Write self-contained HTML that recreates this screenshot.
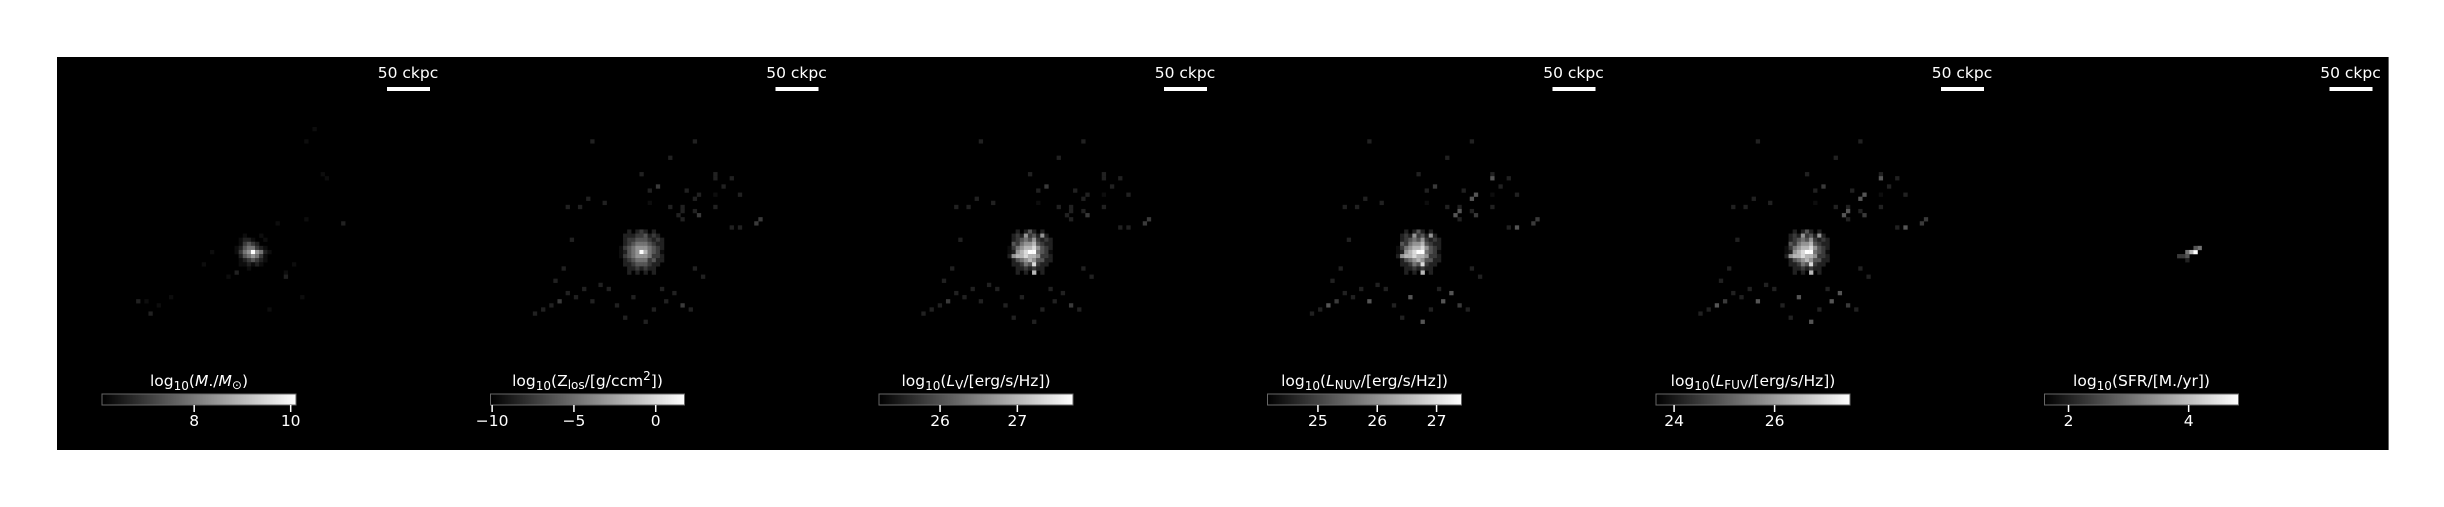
<!DOCTYPE html>
<html><head><meta charset="utf-8">
<style>
html,body{margin:0;padding:0;background:#fff;}
body{width:2444px;height:507px;overflow:hidden;position:relative;font-family:"DejaVu Sans","Liberation Sans",sans-serif;}
svg{position:absolute;left:0;top:0;}
</style></head>
<body>
<svg id="fig" width="2444" height="507" viewBox="0 0 2444 507">
<defs>
<linearGradient id="gray" x1="0" x2="1" y1="0" y2="0"><stop offset="0" stop-color="#000"/><stop offset="1" stop-color="#fff"/></linearGradient>
</defs>
</svg>
<script>
// ---- data ----
const panelNames = ["stellar-mass","metallicity","lum-v","lum-nuv","lum-fuv","sfr"];
const cbMin = [6.09, -10.1, 25.21, 24.15, 23.64, 1.6];
const cbMax = [10.11, 1.76, 27.72, 27.42, 27.5, 4.83];
const cbTicks = [[8,10],[-10,-5,0],[26,27],[25,26,27],[24,26],[2,4]];
const cbTickLabels = [["8","10"],["\u221210","\u22125","0"],["26","27"],["25","26","27"],["24","26"],["2","4"]];
// core intensity maps (rows dy=-5..5, cols dx=-5..5, digit 0-9)
const coreBright = [
 "00000000000","00010000000","00122100100","00134320000","01245532100","01356965210",
 "00245653100","00123432100","00012121000","00001000000","00000000000"];
const coreExt = [
 "00202320200","02223342320","02334443232","02345554322","13456665432","12456975431",
 "13456665332","02345553422","02234443220","00223232200","00202020200"];
const coreLum = [
 "00202420200","02326342620","02345463232","04356674322","13567786432","12678995431",
 "26778776332","02456764422","02235483220","00223232200","00202070200"];
// scattered pixels [dx,dy,intensity 0-9]
const scatter = [
 [-12,-27,2],[13,-27,2],[7,-23,2],[0,-19,2],[4,-16,3],[2,-15,2],[18,-19,2],[18,-18,2],
 [22,-18,2],[20,-16,2],[11,-15,2],[24,-14,2],[14,-14,2],[13,-13,2],[18,-14,1],[-13,-13,2],
 [-9,-12,2],[2,-12,1],[-18,-11,2],[-15,-11,2],[7,-11,2],[10,-11,2],[10,-10,2],[18,-11,2],
 [13,-10,2],[9,-9,2],[14,-9,3],[10,-8,2],[22,-6,2],[24,-6,2],[28,-7,3],[29,-8,3],
 [-10,8,2],[-14,9,2],[-18,10,2],[-20,12,3],[-22,13,2],[-24,14,2],[-26,15,2],[-16,11,2],
 [-12,12,2],[-8,9,2],[5,9,2],[8,10,2],[10,13,3],[12,14,2],[-2,11,2],[3,14,2],[6,12,2],
 [-6,13,2],[-17,-3,2],[-19,4,2],[-21,7,2],[13,4,2],[15,6,2],[-4,16,2],[1,17,2]];
const scatterDim = [
 [15,-30,1],[13,-27,1],[17,-19,1],[18,-18,1],[13,-8,1],[22,-7,2],[-10,0,1],[-6,6,1],
 [-4,5,2],[-3,3,1],[8,5,1],[10,3,1],[-26,12,1],[-28,12,2],[-25,15,2],[-23,13,1],[-20,11,1],
 [4,14,1],[8,6,2],[12,11,1],[-12,3,1],[6,-7,1],[2,-4,1]];
const sfrPix = [[-4,1,3],[-3,1,3],[-2,0,5],[-2,1,4],[-1,0,7],[0,0,9],[1,-1,5],[0,-1,4],[-2,2,2]];
const labels = [
 'log<tspan dy="4" font-size="12">10</tspan><tspan dy="-4">(</tspan><tspan font-style="italic">M</tspan>./<tspan font-style="italic">M</tspan><tspan dy="3" font-size="12">\u2299</tspan><tspan dy="-3">)</tspan>',
 'log<tspan dy="4" font-size="12">10</tspan><tspan dy="-4">(</tspan>Z<tspan dy="3" font-size="12">los</tspan><tspan dy="-3">/[g/ccm</tspan><tspan dy="-6" font-size="12">2</tspan><tspan dy="6">])</tspan>',
 'log<tspan dy="4" font-size="12">10</tspan><tspan dy="-4">(</tspan><tspan font-style="italic">L</tspan><tspan dy="3" font-size="12">V</tspan><tspan dy="-3">/[erg/s/Hz])</tspan>',
 'log<tspan dy="4" font-size="12">10</tspan><tspan dy="-4">(</tspan><tspan font-style="italic">L</tspan><tspan dy="3" font-size="12">NUV</tspan><tspan dy="-3">/[erg/s/Hz])</tspan>',
 'log<tspan dy="4" font-size="12">10</tspan><tspan dy="-4">(</tspan><tspan font-style="italic">L</tspan><tspan dy="3" font-size="12">FUV</tspan><tspan dy="-3">/[erg/s/Hz])</tspan>',
 'log<tspan dy="4" font-size="12">10</tspan><tspan dy="-4">(SFR/[M./yr])</tspan>'];

// ---- layout ----
const svg = document.getElementById('fig');
const NS = 'http://www.w3.org/2000/svg';
const P0 = 57, PW = 388.5, PT = 57, PH = 393, CELL = 4.1, CX = 196, CY = 252;
function mk(tag, attrs, parent){const e=document.createElementNS(NS,tag);for(const k in attrs)e.setAttribute(k,attrs[k]);(parent||svg).appendChild(e);return e;}
function gray(v){const g=Math.round(Math.pow(Math.min(9,v)/9,1.35)*255);return `rgb(${g},${g},${g})`;}

for(let i=0;i<6;i++){
  const x0 = P0 + i*PW;
  const g = mk('g',{});
  
  
  const bg = mk('rect',{x:x0,y:PT,width:PW+0.6,height:PH,fill:'#000'},g);
  
  
  const map = mk('g',{},g);
  
  
  const cx = x0 + CX, cy = CY;
  function px(dx,dy,v){
    if(v<=0) return;
    const r = mk('rect',{x:cx+(dx-0.5)*CELL,y:cy+(dy-0.5)*CELL,width:CELL+0.2,height:CELL+0.2,fill:gray(v)},map);
    
    
  }
  if(i===5){ sfrPix.forEach(p=>px(p[0],p[1],p[2])); }
  else {
    const core = i===0 ? coreBright : (i===1 ? coreExt : coreLum);
    if(i===0) scatterDim.forEach(p=>px(p[0],p[1],p[2]));
    else scatter.forEach(p=>px(p[0],p[1],p[2]+(i>=3&&(p[0]+p[1])%9===0?2:0)));
    core.forEach((row,r)=>{for(let c=0;c<row.length;c++){px(c-5,r-5,+row[c]);}});
  }
  // scale bar
  const sbt = mk('text',{x:x0+351,y:78,fill:'#fff','font-size':15.5,'text-anchor':'middle'},g);
  sbt.textContent='50 ckpc';
  
  
  const sb = mk('rect',{x:x0+330,y:87,width:43,height:4,fill:'#fff'},g);
  
  
  // colorbar
  const cbx = x0+45, cbw = 194, cby = 394, cbh = 11;
  const sc = v => cbx + (v-cbMin[i])/(cbMax[i]-cbMin[i])*cbw;
  const cb = mk('rect',{x:cbx,y:cby,width:cbw,height:cbh,fill:'url(#gray)',stroke:'#666','stroke-width':1},g);
  
  
  const lab = mk('text',{x:cbx+cbw/2,y:386,fill:'#fff','font-size':15.5,'text-anchor':'middle'},g);
  lab.innerHTML = labels[i];
  
  
  cbTicks[i].forEach((t,k)=>{
    const tx = sc(t);
    const tk = mk('line',{x1:tx,x2:tx,y1:cby+cbh,y2:cby+cbh+7,stroke:'#fff','stroke-width':1.5},g);
    
    
    const tl = mk('text',{x:tx,y:426,fill:'#fff','font-size':15.5,'text-anchor':'middle'},g);
    tl.textContent = cbTickLabels[i][k];
    
    
  });
}
</script>
</body></html>
